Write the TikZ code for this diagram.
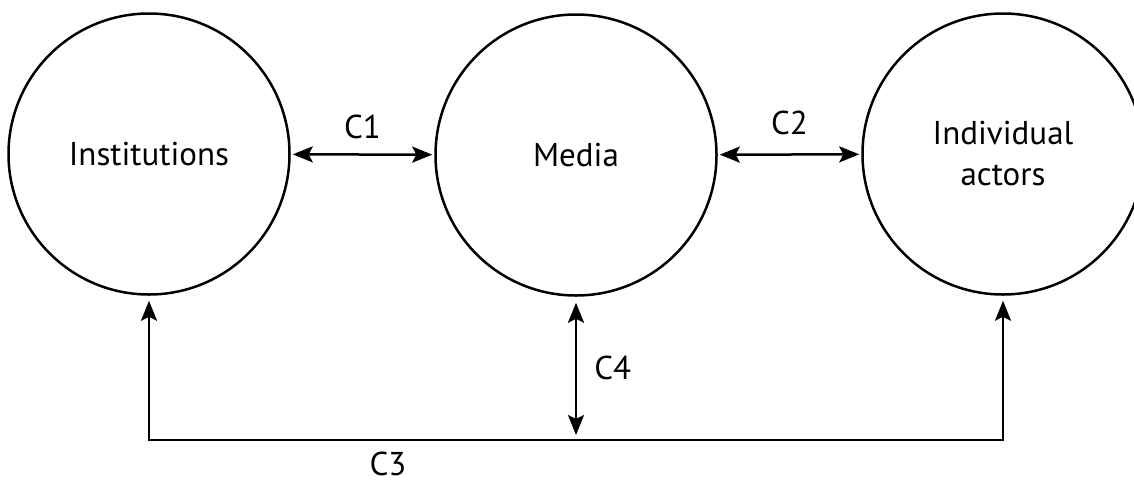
\documentclass[tikz,border=0pt]{standalone}
\usepackage{fontspec}
\setmainfont{PT Sans}
\usetikzlibrary{arrows.meta}
\begin{document}
\begin{tikzpicture}[x=1pt,y=-1pt,
  ent/.style={circle,draw,line width=2.5pt,minimum size=281pt,inner sep=0pt,font=\fontsize{33}{41}\selectfont,align=center},
  lbl/.style={font=\fontsize{33}{40}\selectfont,inner sep=0pt},
  link/.style={line width=2.5pt,{Stealth[length=20pt,width=16pt,inset=4pt]}-{Stealth[length=20pt,width=16pt,inset=4pt]}},
  onelink/.style={line width=2.5pt,-{Stealth[length=20pt,width=16pt,inset=4pt]}}]
\useasboundingbox (0,0) rectangle (1134,483);
\clip (0,0) rectangle (1134,483);
\node[ent] (inst) at (149,154) {Institutions};
\node[ent] (media) at (576,155) {Media};
\node[ent] (ind) at (1003,154) {Individual\\actors};
\coordinate (bl) at (149,440);
\coordinate (br) at (1003,440);
\coordinate (mb) at (576,440);
\draw[link,shorten <=2pt,shorten >=2pt] (inst) -- (media) node[lbl,midway,above=14pt] {C1};
\draw[link,shorten <=2pt,shorten >=2pt] (media) -- (ind) node[lbl,midway,above=18pt] {C2};
\draw[link,shorten <=6pt,shorten >=5pt] (media.south) -- (mb) node[lbl,midway,right=17pt] {C4};
\draw[onelink,shorten >=5pt] (mb) -- (bl) -- (inst.south);
\draw[onelink,shorten >=5pt] (mb) -- (br) -- (ind.south);
\node[lbl] (c3) at (388,464) {C3};
\end{tikzpicture}
\end{document}
